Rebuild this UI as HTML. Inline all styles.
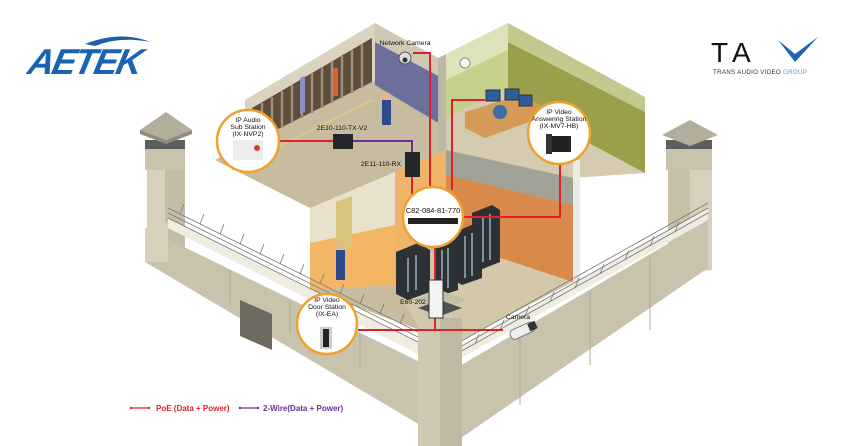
<!DOCTYPE html>
<html><head><meta charset="utf-8"><style>
html,body{margin:0;padding:0;background:#fff;}
svg{display:block;}
text{font-family:"Liberation Sans",sans-serif;}
</style></head><body>
<svg width="850" height="446" viewBox="0 0 850 446" xmlns="http://www.w3.org/2000/svg">
<rect width="850" height="446" fill="#fff"/>

<!-- AETEK logo -->
<path d="M85 44 Q120 30 150 42 Q120 36 95 46 Z" fill="#1a5fae"/>
<text x="28" y="74" font-size="36" font-weight="bold" font-style="italic" fill="#1a63b0" letter-spacing="-2" transform="skewX(-12) translate(14,0)">AETEK</text>

<!-- TAV logo -->
<text x="711" y="62" font-size="28" fill="#111" letter-spacing="6">TA</text>
<path d="M778 40 L795 62 L818 37 L795 54 Z" fill="#1b63b5"/>
<text x="713" y="74" font-size="6.2" fill="#333" letter-spacing="0.3">TRANS AUDIO VIDEO <tspan fill="#6a8fbf">GROUP</tspan></text>

<!-- base floor -->
<polygon points="215,160 245,145 375,78 442,115 508,85 645,173 573,175 573,282 458,342 420,330 310,290 310,208" fill="#c7bc9f"/>

<!-- cell room back-left wall -->
<polygon points="245,100 375,23 375,80 245,145" fill="#d9d3bf"/>
<polygon points="252,108 372,38 372,82 252,142" fill="#5e4c3c"/>
<g stroke="#a08f78" stroke-width="2.5">
<line x1="262" y1="103" x2="262" y2="138"/><line x1="272" y1="97" x2="272" y2="133"/><line x1="282" y1="91" x2="282" y2="128"/><line x1="292" y1="85" x2="292" y2="123"/><line x1="302" y1="79" x2="302" y2="118"/><line x1="312" y1="73" x2="312" y2="113"/><line x1="322" y1="67" x2="322" y2="108"/><line x1="332" y1="61" x2="332" y2="103"/><line x1="342" y1="56" x2="342" y2="98"/><line x1="352" y1="50" x2="352" y2="93"/><line x1="362" y1="44" x2="362" y2="88"/>
</g>
<polygon points="300,78 305,76 305,112 300,114" fill="#8a8fc4"/>
<rect x="333" y="68" width="5" height="28" fill="#e0602a"/>
<!-- cell room back-right wall -->
<polygon points="375,23 442,60 442,78 375,42" fill="#cfc9b3"/>
<polygon points="375,42 442,78 442,125 375,85" fill="#6c6e9c"/>
<line x1="232" y1="170" x2="372" y2="100" stroke="#e8d46a" stroke-width="1"/>

<!-- divider wall top -->
<polygon points="438,58 446,54 446,200 438,200" fill="#bdb8a5"/>

<!-- green room -->
<polygon points="446,54 508,23 508,88 446,118" fill="#dde2b8"/>
<polygon points="446,80 508,50 508,88 446,118" fill="#c6d08c"/>
<polygon points="508,23 645,97 645,112 508,42" fill="#c5c88d"/>
<polygon points="508,42 645,112 645,173 508,100" fill="#9aa04a"/>
<polygon points="446,118 508,88 508,100 645,173 573,178 446,150" fill="#d4cbb0"/>
<polygon points="465,112 520,95 540,105 540,118 485,138 465,128" fill="#d69a57"/>
<rect x="486" y="90" width="14" height="11" fill="#2e5e9a" stroke="#333"/>
<rect x="505" y="89" width="14" height="11" fill="#2e5e9a" stroke="#333"/>
<rect x="519" y="95" width="13" height="11" fill="#2e5e9a" stroke="#333"/>
<circle cx="500" cy="112" r="7" fill="#3b6ea8"/>
<circle cx="465" cy="63" r="5" fill="#fff" stroke="#888"/>

<!-- server room walls -->
<polygon points="446,150 573,178 573,205 446,175" fill="#9fa295"/>
<polygon points="446,175 573,205 573,282 446,240" fill="#d9894a"/>
<polygon points="573,160 580,160 580,282 573,282" fill="#ecebe4"/>

<!-- lobby wall -->
<polygon points="310,208 395,172 395,285 310,290" fill="#e8e2cc"/>
<polygon points="310,243 395,225 395,285 310,290" fill="#f2b665"/>
<polygon points="336,202 352,196 352,248 336,252" fill="#d9c67a"/>
<polygon points="395,172 446,150 446,240 395,260" fill="#eeb46a"/>
<polygon points="395,285 446,240 573,282 458,342 420,330" fill="#d3c8a9"/>

<!-- racks -->
<g>
<polygon points="396,252 418,243 430,250 430,292 408,300 396,294" fill="#2c3136"/>
<polygon points="434,245 452,238 458,242 458,290 440,296 434,292" fill="#2c3136"/>
<polygon points="455,232 474,224 482,228 482,278 462,285 455,281" fill="#2c3136"/>
<polygon points="472,213 492,205 500,210 500,262 480,270 472,266" fill="#2c3136"/>
<g stroke="#b9cfe0" stroke-width="1.2">
<line x1="442" y1="250" x2="442" y2="290"/><line x1="448" y1="248" x2="448" y2="288"/>
<line x1="465" y1="236" x2="465" y2="278"/><line x1="472" y1="233" x2="472" y2="276"/>
<line x1="483" y1="217" x2="483" y2="262"/><line x1="490" y1="214" x2="490" y2="260"/>
<line x1="408" y1="258" x2="408" y2="292"/><line x1="416" y1="255" x2="416" y2="290"/>
</g>
</g>

<rect x="382" y="100" width="9" height="25" fill="#2f4a8e"/><circle cx="386" cy="96" r="4" fill="#e9b58c"/>
<rect x="336" y="250" width="9" height="30" fill="#2f4a8e"/><circle cx="340" cy="245" r="4" fill="#e9b58c"/>

<!-- left tower -->
<polygon points="147,170 185,170 185,265 147,255" fill="#d6d0bc"/>
<polygon points="165,170 185,170 185,265 165,262" fill="#c3bca6"/>
<rect x="145" y="148" width="40" height="22" fill="#c9c3ad"/>
<rect x="145" y="140" width="40" height="9" fill="#5d5f5f"/>
<polygon points="166,112 192,130 166,140 140,130" fill="#b3ad9b"/>
<polygon points="140,130 166,140 192,130 192,134 166,144 140,134" fill="#8f8a7c"/>

<!-- right tower -->
<polygon points="668,170 712,170 712,270 668,275" fill="#d6d0bc"/>
<polygon points="668,170 690,170 690,273 668,275" fill="#c8c1aa"/>
<rect x="666" y="148" width="46" height="22" fill="#c9c3ad"/>
<rect x="666" y="140" width="46" height="9" fill="#5d5f5f"/>
<polygon points="690,120 718,135 690,146 662,135" fill="#b3ad9b"/>

<!-- left wall -->
<polygon points="168,218 420,343 420,355 168,228" fill="#efece2"/>
<polygon points="145,228 420,362 420,425 145,262" fill="#c9c2ad"/>
<polygon points="145,228 168,222 168,262 145,262" fill="#d6d0bc"/>
<polygon points="240,300 272,314 272,350 240,336" fill="#6d6a60"/>
<g stroke="#b0a992" stroke-width="1"><line x1="230" y1="270" x2="230" y2="303"/><line x1="290" y1="300" x2="290" y2="333"/><line x1="360" y1="334" x2="360" y2="367"/></g>
<g stroke="#777" stroke-width="0.8" fill="none">
<line x1="168" y1="208" x2="420" y2="333"/><line x1="168" y1="213" x2="420" y2="338"/><line x1="168" y1="218" x2="420" y2="343"/>
<path d="M180 214 l4 -10 M200 224 l4 -10 M220 234 l4 -10 M240 244 l4 -10 M260 254 l4 -10 M280 264 l4 -10 M300 274 l4 -10 M320 284 l4 -10 M340 294 l4 -10 M360 304 l4 -10 M380 314 l4 -10 M400 324 l4 -10"/>
</g>

<!-- right wall -->
<polygon points="458,348 708,208 708,220 458,360" fill="#efece2"/>
<polygon points="458,367 708,220 708,268 458,440" fill="#c9c2ad"/>
<g stroke="#b0a992" stroke-width="1"><line x1="520" y1="333" x2="520" y2="405"/><line x1="590" y1="292" x2="590" y2="365"/><line x1="650" y1="257" x2="650" y2="330"/></g>
<g stroke="#777" stroke-width="0.8" fill="none">
<line x1="458" y1="343" x2="708" y2="203"/><line x1="458" y1="348" x2="708" y2="208"/><line x1="458" y1="353" x2="708" y2="213"/>
<path d="M475 344 l4 -10 M500 330 l4 -10 M525 316 l4 -10 M550 302 l4 -10 M575 288 l4 -10 M600 274 l4 -10 M625 260 l4 -10 M650 246 l4 -10 M675 232 l4 -10"/>
</g>

<!-- center tower -->
<polygon points="418,318 440,310 462,318 462,446 418,446" fill="#cfc8b3"/>
<polygon points="440,318 462,318 462,446 440,446" fill="#bfb8a2"/>
<polygon points="415,300 440,290 466,300 440,312" fill="#c4bea8"/>
<polygon points="418,308 440,300 462,308 440,316" fill="#4f5050"/>

<!-- wires -->
<g stroke="#e1202b" stroke-width="2" fill="none">
<polyline points="280,141 333,141"/>
<polyline points="412,177 412,197"/>
<polyline points="413,53 430,53 430,190"/>
<polyline points="452,190 452,100 485,100"/>
<polyline points="463,217 560,217 560,163"/>
<polyline points="435,247 435,330"/>
<polyline points="358,330 503,330"/>
</g>
<polyline points="353,141 412,141 412,153" stroke="#6a2f9c" stroke-width="2" fill="none"/>

<rect x="333" y="134" width="20" height="15" fill="#23262a"/>
<rect x="405" y="152" width="15" height="25" fill="#23262a"/>
<rect x="429" y="280" width="14" height="38" fill="#f3f3f3" stroke="#333"/>
<circle cx="405" cy="58" r="6" fill="#dcdcdc" stroke="#555"/>
<circle cx="405" cy="60" r="2.5" fill="#333"/>
<g transform="rotate(-25 522 332)"><rect x="510" y="326" width="26" height="10" rx="4" fill="#eee" stroke="#777"/><rect x="530" y="327" width="8" height="8" fill="#333"/></g>

<!-- circles -->
<g fill="#fff" stroke="#f0a02c" stroke-width="2.5">
<circle cx="248" cy="141" r="31"/>
<circle cx="433" cy="217" r="30"/>
<circle cx="559" cy="133" r="31"/>
<circle cx="327" cy="324" r="30"/>
</g>
<rect x="233" y="140" width="30" height="20" fill="#ececec"/>
<circle cx="257" cy="148" r="3" fill="#c42"/>
<rect x="408" y="218" width="50" height="6" fill="#222"/>
<rect x="549" y="136" width="22" height="16" fill="#222"/>
<rect x="546" y="134" width="6" height="20" fill="#333"/>
<rect x="320" y="327" width="12" height="22" fill="#ccc"/>
<rect x="323" y="329" width="6" height="18" fill="#222"/>

<g font-size="6.8" fill="#111" text-anchor="middle">
<text x="248" y="122">IP Audio</text><text x="248" y="129">Sub Station</text><text x="248" y="136">(IX-NVP2)</text>
<text x="559" y="114">IP Video</text><text x="559" y="121">Answering Station</text><text x="559" y="128">(IX-MV7-HB)</text>
<text x="327" y="302">IP Video</text><text x="327" y="309">Door Station</text><text x="327" y="316">(IX-EA)</text>
<text x="433" y="213" font-size="7.5">C82-084-81-770</text>
<text x="405" y="45">Network Camera</text>
<text x="342" y="130">2E10-110-TX-V2</text>
<text x="381" y="166">2E11-110-RX</text>
<text x="413" y="304">E60-202</text>
<text x="518" y="319">Camera</text>
</g>

<line x1="131" y1="408" x2="149" y2="408" stroke="#e1202b" stroke-width="1.3"/>
<circle cx="131" cy="408" r="1.2" fill="#e1202b"/><circle cx="149" cy="408" r="1.2" fill="#e1202b"/>
<text x="156" y="411" font-size="8" font-weight="bold" fill="#e1202b">PoE (Data + Power)</text>
<line x1="240" y1="408" x2="258" y2="408" stroke="#6a2f9c" stroke-width="1.3"/>
<circle cx="240" cy="408" r="1.2" fill="#6a2f9c"/><circle cx="258" cy="408" r="1.2" fill="#6a2f9c"/>
<text x="263" y="411" font-size="8" font-weight="bold" fill="#6a2f9c">2-Wire(Data + Power)</text>
</svg>
</body></html>
